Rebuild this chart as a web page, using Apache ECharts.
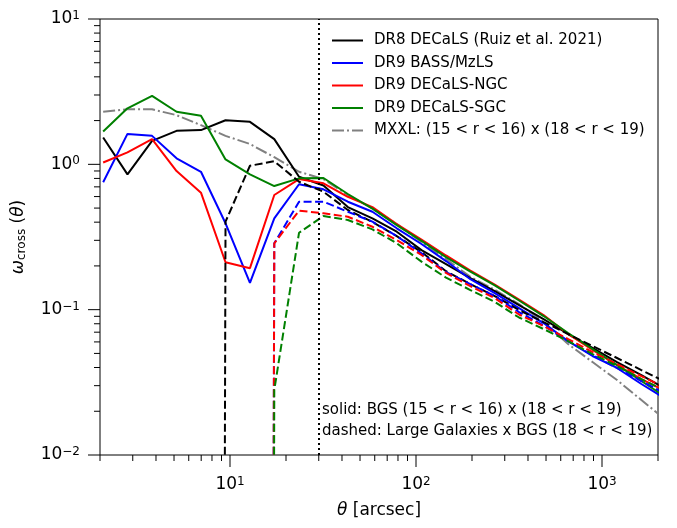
<!DOCTYPE html>
<html>
<head>
<meta charset="utf-8">
<script src="https://cdn.jsdelivr.net/npm/echarts@6/dist/echarts.min.js"></script>
<style>
  html, body { margin: 0; padding: 0; background: #fff; }
  #chart { width: 677px; height: 528px; }
</style>
</head>
<body>
<div id="chart"></div>
<script>
// angular bins (arcsec)
const theta = [2.08, 2.81, 3.81, 5.16, 6.98, 9.46, 12.8, 17.3, 23.5, 31.8, 43.0, 58.3,
  78.8, 107, 145, 196, 265, 358, 485, 657, 889, 1204, 1628, 2203];

// solid: BGS (15<r<16) x (18<r<19)
const dr8Solid = [1.53, 0.853, 1.45, 1.70, 1.72, 2.01, 1.96, 1.49, 0.822, 0.715, 0.508, 0.425,
  0.344, 0.257, 0.206, 0.165, 0.134, 0.1076, 0.0862, 0.068, 0.0545, 0.0436, 0.0355, 0.0284];
const bassSolid = [0.752, 1.62, 1.57, 1.10, 0.889, 0.393, 0.153, 0.425, 0.729, 0.673, 0.553, 0.472,
  0.363, 0.283, 0.216, 0.162, 0.130, 0.1026, 0.0809, 0.0608, 0.0480, 0.0397, 0.0308, 0.0243];
const ngcSolid = [1.03, 1.21, 1.49, 0.899, 0.638, 0.212, 0.193, 0.615, 0.792, 0.740, 0.598, 0.508,
  0.388, 0.304, 0.236, 0.186, 0.149, 0.1174, 0.0918, 0.068, 0.0528, 0.0416, 0.0333, 0.0275];
const sgcSolid = [1.68, 2.43, 2.96, 2.30, 2.16, 1.08, 0.853, 0.709, 0.801, 0.805, 0.625, 0.496,
  0.382, 0.297, 0.230, 0.183, 0.147, 0.1156, 0.0904, 0.0691, 0.0536, 0.0416, 0.0323, 0.0250];
const mxxl = [2.30, 2.39, 2.39, 2.18, 1.86, 1.57, 1.38, 1.12, 0.889, 0.792, 0.615, 0.496,
  0.388, 0.292, 0.223, 0.168, 0.137, 0.1093, 0.0822, 0.058, 0.0436, 0.0328, 0.0239, 0.0174];

// dashed: Large Galaxies x BGS (18<r<19); null = no bin, 0 = non-positive (clipped like mpl)
const dr8Dashed = [null, null, null, null, 0, 0.403, 0.978, 1.05, 0.759, 0.648, 0.485, 0.401,
  0.321, 0.249, 0.184, 0.150, 0.124, 0.0994, 0.0822, 0.068, 0.0562, 0.0465, 0.0384, 0.0318];
const bassDashed = [null, null, null, null, null, null, 0, 0.286, 0.553, 0.553, 0.472, 0.403,
  0.321, 0.244, 0.1815, 0.150, 0.124, 0.0963, 0.0778, 0.0608, 0.0487, 0.0397, 0.0323, 0.0263];
const ngcDashed = [null, null, null, null, null, null, 0, 0.286, 0.48, 0.46, 0.436, 0.372,
  0.301, 0.238, 0.179, 0.145, 0.120, 0.0926, 0.0772, 0.0628, 0.0511, 0.0422, 0.0349, 0.0289];
const sgcDashed = [null, null, null, null, null, null, 0, 0.028, 0.338, 0.441, 0.414, 0.357,
  0.286, 0.214, 0.166, 0.1365, 0.113, 0.0883, 0.0736, 0.0608, 0.0495, 0.0409, 0.0333, 0.0275];

const thetaCut = 30;
const xRange = [2, 2000];
const yRange = [0.01, 10];
const xMajorTicks = [10, 100, 1000];
const xMinorTicks = [2, 3, 4, 5, 6, 7, 8, 9, 20, 30, 40, 50, 60, 70, 80, 90,
  200, 300, 400, 500, 600, 700, 800, 900, 2000];
const yMajorTicks = [0.01, 0.1, 1, 10];
const yMinorTicks = [0.02, 0.03, 0.04, 0.05, 0.06, 0.07, 0.08, 0.09,
  0.2, 0.3, 0.4, 0.5, 0.6, 0.7, 0.8, 0.9, 2, 3, 4, 5, 6, 7, 8, 9];

const FONT = 'DejaVu Sans';
const CLIP = 1e-60;

function pairs(vals) {
  const out = [];
  vals.forEach((v, i) => {
    if (v === null) return;
    out.push([theta[i], v <= 0 ? CLIP : v]);
  });
  return out;
}

function lineSeries(name, vals, color, type) {
  return {
    name: name,
    type: 'line',
    data: pairs(vals),
    symbol: 'none',
    showSymbol: false,
    clip: true,
    lineStyle: { color: color, width: 2, type: type },
    itemStyle: { color: color },
    emphasis: { disabled: true }
  };
}

function powLabel(v) {
  const l = Math.log10(v);
  const e = Math.round(l);
  if (Math.abs(l - e) > 1e-6) return '';
  return '{b|10}{s|' + (e < 0 ? '\u2212' + (-e) : e) + '}';
}

const labelRich = {
  b: { fontSize: 17, fontFamily: FONT, color: '#000' },
  s: { fontSize: 12, fontFamily: FONT, color: '#000', verticalAlign: 'top', padding: [0, 0, 6, 0] }
};

const tickData = []
  .concat(xMajorTicks.map(v => [v, yRange[0], 0]))
  .concat(xMinorTicks.map(v => [v, yRange[0], 1]))
  .concat(yMajorTicks.map(v => [xRange[0], v, 2]))
  .concat(yMinorTicks.map(v => [xRange[0], v, 3]));

const chart = echarts.init(document.getElementById('chart'));
chart.setOption({
  animation: false,
  backgroundColor: '#fff',
  grid: { left: 100, right: 19, top: 19, bottom: 73, show: true, borderColor: '#000', borderWidth: 1, backgroundColor: 'transparent' },
  legend: {
    data: ['DR8 DECaLS (Ruiz et al. 2021)', 'DR9 BASS/MzLS', 'DR9 DECaLS-NGC', 'DR9 DECaLS-SGC',
      'MXXL: (15 < r < 16) x (18 < r < 19)'],
    orient: 'vertical',
    left: 326,
    top: 28,
    itemWidth: 31,
    itemHeight: 14,
    itemGap: 7.5,
    itemStyle: { opacity: 0, color: 'transparent', borderWidth: 0 },
    textStyle: { fontSize: 15, fontFamily: FONT, color: '#000', padding: [0, 0, 0, 6] },
    selectedMode: false
  },
  xAxis: {
    type: 'log',
    min: xRange[0],
    max: xRange[1],
    name: '{i|θ} [arcsec]',
    nameLocation: 'middle',
    nameGap: 47,
    nameTextStyle: {
      fontSize: 17, fontFamily: FONT, color: '#000',
      rich: { i: { fontSize: 17, fontFamily: FONT, fontStyle: 'italic', color: '#000' } }
    },
    axisLine: { show: false },
    axisTick: { show: false },
    splitLine: { show: false },
    axisLabel: { margin: 21, formatter: powLabel, rich: labelRich }
  },
  yAxis: {
    type: 'log',
    min: yRange[0],
    max: yRange[1],
    name: '{i|ω}{c|cross}{a| (}{i|θ}{a|)}',
    nameLocation: 'middle',
    nameRotate: 90,
    nameGap: 72,
    nameTextStyle: {
      fontSize: 17, fontFamily: FONT, color: '#000',
      rich: {
        i: { fontSize: 17, fontFamily: FONT, fontStyle: 'italic', color: '#000' },
        a: { fontSize: 17, fontFamily: FONT, color: '#000' },
        c: { fontSize: 12, fontFamily: FONT, color: '#000', verticalAlign: 'bottom', padding: [6, 0, 0, 0] }
      }
    },
    axisLine: { show: false },
    axisTick: { show: false },
    splitLine: { show: false },
    axisLabel: { margin: 20, formatter: powLabel, rich: labelRich }
  },
  graphic: [
    { type: 'text', left: 322, top: 403, style: { text: 'solid: BGS (15 < r < 16) x (18 < r < 19)', fontSize: 15, fontFamily: FONT, fill: '#000' } },
    { type: 'text', left: 322, top: 424, style: { text: 'dashed: Large Galaxies x BGS (18 < r < 19)', fontSize: 15, fontFamily: FONT, fill: '#000' } }
  ],
  series: [
    lineSeries('MXXL: (15 < r < 16) x (18 < r < 19)', mxxl, '#808080', [12, 3, 2, 3]),
    lineSeries('DR8 DECaLS (Ruiz et al. 2021)', dr8Solid, '#000000', 'solid'),
    lineSeries('DR9 BASS/MzLS', bassSolid, '#0000ff', 'solid'),
    lineSeries('DR9 DECaLS-NGC', ngcSolid, '#ff0000', 'solid'),
    lineSeries('DR9 DECaLS-SGC', sgcSolid, '#008000', 'solid'),
    lineSeries('DR8 dashed', dr8Dashed, '#000000', [8, 3.5]),
    lineSeries('BASS dashed', bassDashed, '#0000ff', [8, 3.5]),
    lineSeries('NGC dashed', ngcDashed, '#ff0000', [8, 3.5]),
    lineSeries('SGC dashed', sgcDashed, '#008000', [8, 3.5]),
    {
      name: 'theta cut',
      type: 'line',
      data: [],
      markLine: {
        silent: true,
        symbol: ['none', 'none'],
        label: { show: false },
        lineStyle: { color: '#000', width: 2, type: [2, 3] },
        data: [{ xAxis: thetaCut }]
      }
    },
    {
      name: 'ticks',
      type: 'custom',
      silent: true,
      clip: false,
      data: tickData,
      renderItem: function (params, api) {
        const p = api.coord([api.value(0), api.value(1)]);
        const kind = api.value(2);
        const len = (kind === 0 || kind === 2) ? 12 : 6;
        const end = kind < 2 ? [p[0], p[1] + len] : [p[0] - len, p[1]];
        return {
          type: 'line',
          shape: { x1: p[0], y1: p[1], x2: end[0], y2: end[1] },
          style: { stroke: '#000', lineWidth: 1 }
        };
      }
    }
  ]
});
</script>
</body>
</html>
